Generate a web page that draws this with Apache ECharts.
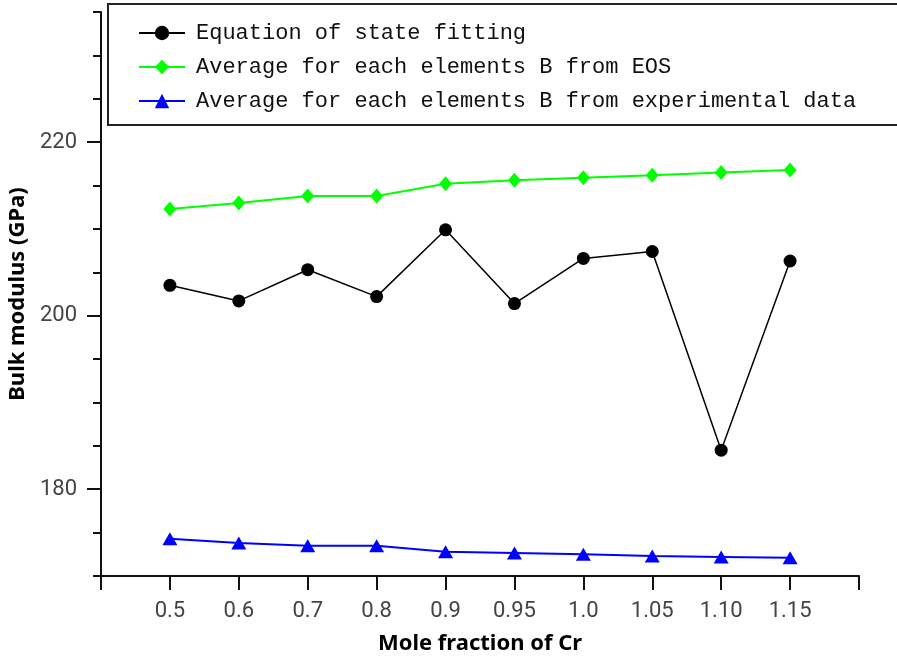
<!DOCTYPE html>
<html><head><meta charset="utf-8">
<script src="https://cdn.jsdelivr.net/npm/echarts@6/dist/echarts.min.js"></script>
<style>html,body{margin:0;padding:0;background:#fff}#c{width:897px;height:659px}</style>
</head><body><div id="c"></div>
<script>
const categories = ['0.5','0.6','0.7','0.8','0.9','0.95','1.0','1.05','1.10','1.15'];
const eosFit = [203.5, 201.7, 205.3, 202.2, 209.9, 201.4, 206.6, 207.4, 184.5, 206.3];
const avgEos = [212.3, 213.0, 213.8, 213.8, 215.2, 215.6, 215.9, 216.2, 216.5, 216.8];
const avgExp = [174.3, 173.8, 173.5, 173.5, 172.8, 172.65, 172.5, 172.3, 172.2, 172.1];
const yMajorLabels = [180, 200, 220];
const seriesNames = ['Equation of state fitting','Average for each elements B from EOS','Average for each elements B from experimental data'];

const toXY = arr => arr.map((v, i) => [i + 1, v]);
const chart = echarts.init(document.getElementById('c'), null, {renderer: 'canvas'});
const axisFont = 'Roboto, "Noto Sans", sans-serif';
const titleFont = '"Noto Sans", "Open Sans", sans-serif';
chart.setOption({
  animation: false,
  backgroundColor: '#fff',
  grid: {left: 101, right: 38, top: 12, bottom: 83, containLabel: false, outerBoundsMode: 'none'},
  graphic: [{
    type: 'rect', z: 5, left: 107, top: 3,
    shape: {width: 792, height: 121},
    style: {fill: '#fff', stroke: '#222', lineWidth: 2}
  }],
  legend: {
    z: 10, orient: 'vertical', left: 133, top: 17, itemGap: 12,
    itemWidth: 46, itemHeight: 18,
    textStyle: {fontFamily: '"Liberation Mono", "DejaVu Sans Mono", monospace', fontSize: 22, color: '#111', padding: [0,0,0,6]},
    data: seriesNames
  },
  xAxis: {
    type: 'value', min: 0, max: 11, interval: 1,
    name: 'Mole fraction of Cr', nameLocation: 'middle', nameGap: 57,
    nameTextStyle: {fontFamily: titleFont, fontWeight: 'bold', fontSize: 22, color: '#000'},
    axisLine: {show: true, onZero: false, lineStyle: {color: '#111', width: 2}},
    axisTick: {show: true, inside: false, length: 14, lineStyle: {color: '#111', width: 2}},
    axisLabel: {margin: 24, fontFamily: axisFont, fontSize: 22, color: '#444',
      formatter: v => (v >= 1 && v <= categories.length) ? categories[v - 1] : ''},
    splitLine: {show: false}
  },
  yAxis: [{
    type: 'value', min: 170, max: 235,
    name: 'Bulk modulus (GPa)', nameLocation: 'middle', nameGap: 59,
    nameTextStyle: {fontFamily: titleFont, fontWeight: 'bold', fontSize: 22, color: '#000'},
    axisLine: {show: true, onZero: false, lineStyle: {color: '#111', width: 2}},
    axisTick: {show: true, length: 14, customValues: yMajorLabels, lineStyle: {color: '#111', width: 2}},
    axisLabel: {margin: 24, customValues: yMajorLabels, fontFamily: axisFont, fontSize: 22, color: '#444'},
    splitLine: {show: false}
  }, {
    type: 'value', min: 170, max: 235, interval: 5, position: 'left',
    axisLine: {show: false},
    axisTick: {show: true, length: 8, lineStyle: {color: '#111', width: 2}},
    axisLabel: {show: false},
    splitLine: {show: false}
  }],
  series: [{
    name: seriesNames[0], type: 'line', data: toXY(eosFit),
    symbol: 'circle', symbolSize: 13,
    lineStyle: {color: '#000', width: 1.5}, itemStyle: {color: '#000'}
  }, {
    name: seriesNames[1], type: 'line', data: toXY(avgEos),
    symbol: 'diamond', symbolSize: [13, 15],
    lineStyle: {color: '#00ff00', width: 2}, itemStyle: {color: '#00ff00'}
  }, {
    name: seriesNames[2], type: 'line', data: toXY(avgExp),
    symbol: 'triangle', symbolSize: [15, 13],
    lineStyle: {color: '#0000ff', width: 2}, itemStyle: {color: '#0000ff'}
  }]
});
</script></body></html>
